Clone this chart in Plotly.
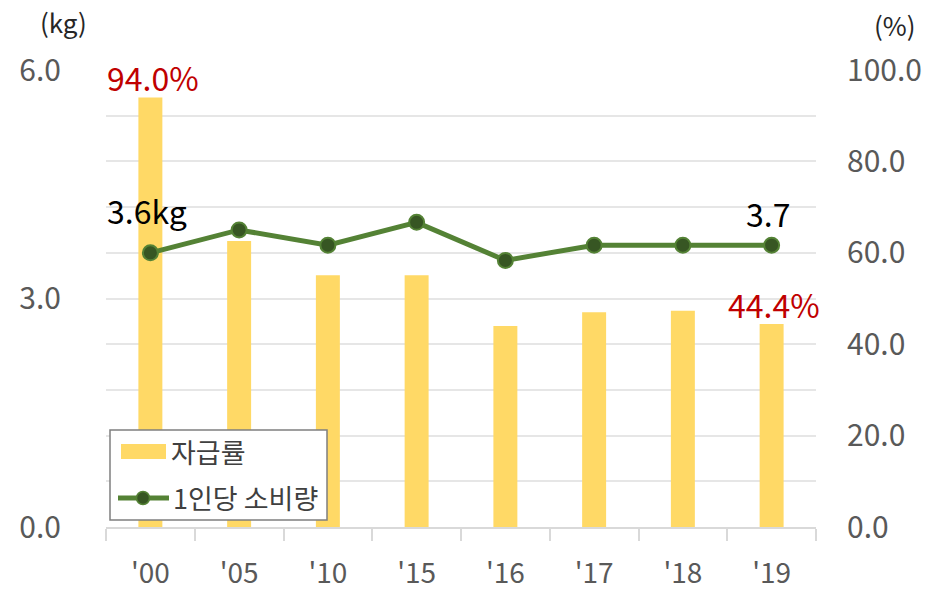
import plotly.graph_objects as go

# Data
years = ["'00", "'05", "'10", "'15", "'16", "'17", "'18", "'19"]
self_sufficiency = [94.0, 62.6, 55.1, 55.1, 44.0, 47.0, 47.3, 44.4]   # %
per_capita = [3.6, 3.9, 3.7, 4.0, 3.5, 3.7, 3.7, 3.7]               # kg

bar_labels = ["94.0%", "", "", "", "", "", "", "44.4%"]
line_labels = ["3.6kg", "", "", "", "", "", "", "3.7"]

FONT = "Noto Sans CJK KR"
BAR_COLOR = "#FFD966"
LINE_COLOR = "#548235"
MARKER_FILL = "#375623"
TICK_GRAY = "#595959"
GRID = "#e6e6e6"

W, H = 952, 591
L, R, T, B = 106, 816, 70, 527


def px_x(x):
    return (x - L) / (R - L)


def px_y(y):
    return (B - y) / (B - T)


fig = go.Figure()

fig.add_trace(go.Bar(
    x=years, y=self_sufficiency, name="자급률",
    marker=dict(color=BAR_COLOR, line=dict(width=0)),
    width=0.27, yaxis="y", showlegend=False,
))

fig.add_trace(go.Scatter(
    x=years, y=per_capita, name="1인당 소비량",
    mode="lines+markers",
    line=dict(color=LINE_COLOR, width=5),
    marker=dict(size=15, color=MARKER_FILL, line=dict(color=LINE_COLOR, width=2)),
    yaxis="y2", showlegend=False,
))

annotations = []
bar_offsets = {"'00": (3, 20), "'19": (2, 20)}
for x, v, t in zip(years, self_sufficiency, bar_labels):
    if t:
        dx, dy = bar_offsets[x]
        annotations.append(dict(
            x=x, y=v, xref="x", yref="y", text=t, showarrow=False,
            xanchor="center", yanchor="middle", xshift=dx, yshift=dy,
            font=dict(family=FONT, size=32, color="#C00000"),
        ))
line_offsets = {"'00": (-3, 43), "'19": (-4, 32)}
for x, v, t in zip(years, per_capita, line_labels):
    if t:
        dx, dy = line_offsets[x]
        annotations.append(dict(
            x=x, y=v, xref="x", yref="y2", text=t, showarrow=False,
            xanchor="center", yanchor="middle", xshift=dx, yshift=dy,
            font=dict(family=FONT, size=32, color="#000000"),
        ))

# axis unit captions
annotations.append(dict(x=px_x(63), y=px_y(21), xref="paper", yref="paper",
                        text="(kg)", showarrow=False,
                        xanchor="center", yanchor="middle",
                        font=dict(family=FONT, size=26, color="#262626")))
annotations.append(dict(x=px_x(895), y=px_y(25), xref="paper", yref="paper",
                        text="(%)", showarrow=False,
                        xanchor="center", yanchor="middle",
                        font=dict(family=FONT, size=26, color="#262626")))

# legend box
shapes = [
    dict(type="rect", xref="paper", yref="paper",
         x0=px_x(110), x1=px_x(327), y0=px_y(520), y1=px_y(430),
         line=dict(color="#7f7f7f", width=1.5), fillcolor="white", layer="above"),
    dict(type="rect", xref="paper", yref="paper",
         x0=px_x(121), x1=px_x(166), y0=px_y(459), y1=px_y(444),
         line=dict(width=0), fillcolor=BAR_COLOR, layer="above"),
    dict(type="line", xref="paper", yref="paper",
         x0=px_x(118), x1=px_x(169), y0=px_y(498), y1=px_y(498),
         line=dict(color=LINE_COLOR, width=5), layer="above"),
    dict(type="circle", xref="paper", yref="paper",
         x0=px_x(136.5), x1=px_x(149.5), y0=px_y(504.5), y1=px_y(491.5),
         line=dict(color=LINE_COLOR, width=1.5), fillcolor=MARKER_FILL, layer="above"),
]
annotations.append(dict(x=px_x(169), y=px_y(451), xref="paper", yref="paper",
                        text="자급률", showarrow=False,
                        xanchor="left", yanchor="middle",
                        font=dict(family=FONT, size=27, color="#404040")))
annotations.append(dict(x=px_x(171), y=px_y(497), xref="paper", yref="paper",
                        text="1인당 소비량", showarrow=False,
                        xanchor="left", yanchor="middle",
                        font=dict(family=FONT, size=27, color="#404040")))

fig.update_layout(
    width=W, height=H,
    margin=dict(l=L, r=W - R, t=T, b=H - B, pad=0, autoexpand=False),
    paper_bgcolor="white", plot_bgcolor="white",
    font=dict(family=FONT, color=TICK_GRAY),
    bargap=0.73,
    xaxis=dict(
        type="category", showgrid=False, automargin=False,
        range=[-0.5, len(years) - 0.5],
        showline=True, linecolor="#d9d9d9", linewidth=2,
        ticks="outside", tickson="boundaries", ticklen=12,
        tickcolor="#d9d9d9", tickwidth=2,
        tickfont=dict(family=FONT, size=28, color=TICK_GRAY),
        ticklabelstandoff=20,
    ),
    yaxis=dict(
        side="right", range=[0, 100], dtick=20, tickformat=".1f",
        showgrid=True, gridcolor=GRID, gridwidth=2, automargin=False,
        minor=dict(dtick=10, showgrid=True, gridcolor=GRID, gridwidth=2),
        zeroline=False, showline=False, ticks="",
        tickfont=dict(family=FONT, size=30, color=TICK_GRAY),
        ticklabelstandoff=30,
    ),
    yaxis2=dict(
        side="left", overlaying="y", range=[0, 6], dtick=3, tickformat=".1f",
        showgrid=False, zeroline=False, showline=False, ticks="", automargin=False,
        tickfont=dict(family=FONT, size=30, color=TICK_GRAY),
        ticklabelstandoff=44,
    ),
    annotations=annotations,
    shapes=shapes,
)

fig.write_html("out.html")
